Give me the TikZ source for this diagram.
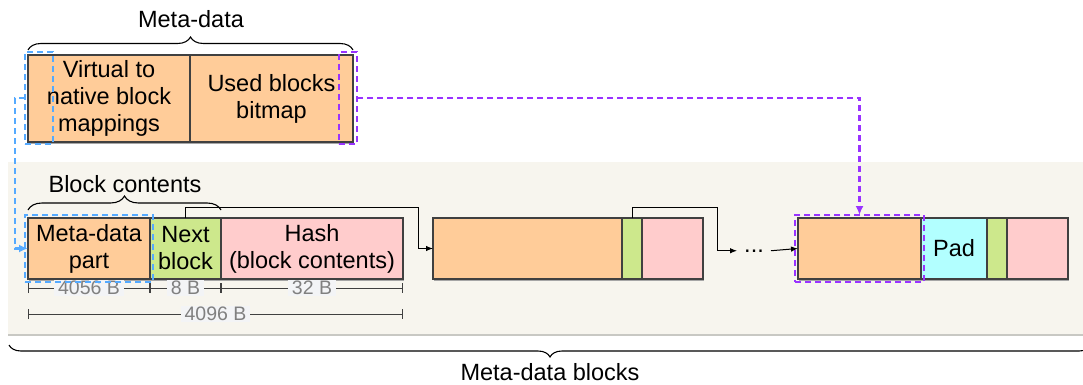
\documentclass[tikz,border=0pt]{standalone}
\usepackage{fontspec}
\setmainfont{Liberation Sans}
\usetikzlibrary{arrows.meta, positioning, fit, shadows, decorations.pathreplacing}

\definecolor{peach}{RGB}{255,204,153}
\definecolor{nextgreen}{RGB}{205,232,140}
\definecolor{hashpink}{RGB}{255,204,204}
\definecolor{padcyan}{RGB}{178,255,255}
\definecolor{cellborder}{RGB}{64,64,64}
\definecolor{panelbg}{RGB}{247,245,238}
\definecolor{panelline}{RGB}{200,200,195}
\definecolor{labelbg}{RGB}{243,244,246}
\definecolor{dimgray}{RGB}{128,128,128}
\definecolor{linkblue}{RGB}{85,170,255}
\definecolor{linkpurple}{RGB}{153,51,255}

\begin{document}
\begin{tikzpicture}[
    x=1pt, y=-1pt,
    every node/.style={align=center, font=\fontsize{23.5}{27}\selectfont},
    cell/.style={draw=cellborder, line width=1.2pt, inner sep=2pt, outer sep=0pt, minimum height=61pt,
        drop shadow={shadow xshift=1.2pt, shadow yshift=-1.8pt, fill=black!35, opacity=1}},
    brace/.style={draw, line width=1.1pt, decorate, decoration={brace, amplitude=13pt}},
    arrow/.style={->, >={Latex[length=7pt, width=5.5pt]}, line width=1pt},
    dasharrow/.style={-{Latex[length=9pt, width=8pt]}},
    bluedash/.style={draw=linkblue, line width=2.2pt, dash pattern=on 6pt off 4pt},
    purpdash/.style={draw=linkpurple, line width=2.2pt, dash pattern=on 6pt off 4pt},
    dimline/.style={draw=cellborder, line width=0.8pt, {Bar[width=10pt]}-{Bar[width=10pt]}},
    dimlabel/.style={fill=labelbg, text=dimgray, font=\fontsize{19.5}{22}\selectfont, inner xsep=4pt, inner ysep=1pt}
]
    \useasboundingbox (0,0) rectangle (1083,385);

    % Background
    \fill[panelbg] (8,162) rectangle (1083,335);
    \draw[panelline, line width=1.5pt] (8,335) -- (1083,335);

    % Nodes
    \node[cell, fill=peach, minimum width=162pt, minimum height=87pt, anchor=north west] (vmap) at (28,55) {Virtual to\\native block\\mappings};
    \node[cell, fill=peach, minimum width=163pt, minimum height=87pt, right=0pt of vmap] (bitmap) {Used blocks\\bitmap};

    \node[cell, fill=peach, minimum width=122pt, anchor=north west] (mdpart) at (28,218) {Meta-data\\part};
    \node[cell, fill=nextgreen, minimum width=71pt, right=0pt of mdpart] (nextblk) {Next\\block};
    \node[cell, fill=hashpink, minimum width=182pt, right=0pt of nextblk] (hash) {Hash\\(block contents)};

    \node[cell, fill=peach, minimum width=189pt, anchor=north west] (blk2a) at (433,218) {};
    \node[cell, fill=nextgreen, minimum width=20pt, right=0pt of blk2a] (blk2b) {};
    \node[cell, fill=hashpink, minimum width=61pt, right=0pt of blk2b] (blk2c) {};

    \node[inner xsep=7pt, inner ysep=2pt, anchor=base] (dots) at (754,252) {...};

    \node[cell, fill=peach, minimum width=123pt, anchor=north west] (blk3a) at (798,218) {};
    \node[cell, fill=padcyan, minimum width=66pt, right=0pt of blk3a] (pad) {Pad};
    \node[cell, fill=nextgreen, minimum width=20pt, right=0pt of pad] (blk3b) {};
    \node[cell, fill=hashpink, minimum width=61pt, right=0pt of blk3b] (blk3c) {};

    % Labels
    \node[anchor=base] (metalbl) at (191,28) {Meta-data};
    \node[anchor=base] (contlbl) at (125,192) {Block contents};
    \node[anchor=base] (blockslbl) at (550,380) {Meta-data blocks};

    % Braces
    \draw[brace] ([shift={(0,-5)}]vmap.north west) -- ([shift={(0,-5)}]bitmap.north east);
    \draw[brace, decoration={amplitude=14pt}] ([shift={(0,-8)}]mdpart.north west) -- ([shift={(0,-8)}]nextblk.north east);
    \draw[brace, decoration={mirror, amplitude=12pt}] (9,345) -- (1091,345);

    % Sizes
    \draw[dimline] ([shift={(0,9)}]mdpart.south west) -- node[dimlabel] {4056 B} ([shift={(0,9)}]mdpart.south east);
    \draw[dimline] ([shift={(0,9)}]nextblk.south west) -- node[dimlabel] {8 B} ([shift={(0,9)}]nextblk.south east);
    \draw[dimline] ([shift={(0,9)}]hash.south west) -- node[dimlabel] {32 B} ([shift={(0,9)}]hash.south east);
    \draw[dimline] ([shift={(0,35)}]mdpart.south west) -- node[dimlabel] {4096 B} ([shift={(0,35)}]hash.south east);

    % Highlights
    \node[bluedash, minimum width=28pt, minimum height=92pt, anchor=north west, outer sep=0pt] (bluetop) at (25,52) {};
    \node[purpdash, minimum width=18pt, minimum height=92pt, anchor=north west, outer sep=0pt] (purptop) at (339,52) {};
    \node[bluedash, fit=(mdpart), inner sep=3pt, outer sep=0pt] (bluebot) {};
    \node[purpdash, fit=(blk3a), inner sep=3pt, outer sep=0pt] (purpbot) {};

    % Arrows
    \coordinate (hop1) at (418,207);
    \coordinate (hop2) at (717,207);
    \draw[arrow] (nextblk.north) |- (hop1) |- (blk2a.west);
    \draw[arrow] (blk2b.north) |- (hop2) |- (dots.west);
    \draw[arrow] (dots.east) -- (blk3a.west);
    \draw[dasharrow, bluedash] (bluetop.west) -- ++(-10,0) |- (mdpart.west);
    \draw[dasharrow, purpdash] (purptop.east) -| (purpbot.north);
\end{tikzpicture}
\end{document}
